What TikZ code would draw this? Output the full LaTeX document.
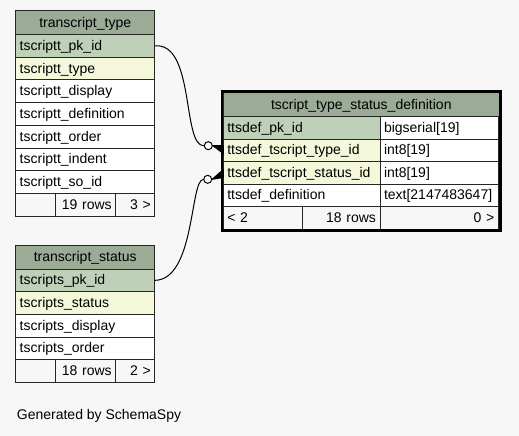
\documentclass[tikz,border=0pt]{standalone}
\usepackage{fontspec}
\setmainfont{Liberation Sans}
\usetikzlibrary{positioning,fit}
\definecolor{hdrgreen}{HTML}{9BAB96}
\definecolor{pkgreen}{HTML}{BED1B8}
\definecolor{idxyellow}{HTML}{F4F7DA}
\definecolor{bggray}{HTML}{F7F7F7}

\begin{document}
\begin{tikzpicture}[x=1pt,y=-1pt,
  cell/.style={draw=black!85,line width=0.9pt,rectangle,inner xsep=4pt,inner ysep=0pt,outer sep=0pt,
    text height=11pt,text depth=2pt,minimum height=22.7pt,font=\fontsize{14}{16}\selectfont,node distance=0pt},
  hdr/.style={cell,fill=hdrgreen,align=center,minimum height=23.8pt},
  pkcol/.style={cell,fill=pkgreen,align=left},
  idxcol/.style={cell,fill=idxyellow,align=left},
  col/.style={cell,fill=white,align=left},
  foot/.style={cell,fill=bggray,align=right},
  rel/.style={draw=black,line width=1pt},
  odot/.style={circle,draw=black,line width=1pt,fill=white,minimum size=8pt,inner sep=0pt},
  crow/.style={draw=black,fill=black,line width=1pt,line join=round}]

  \fill[bggray] (0,0) rectangle (519,436);
  \useasboundingbox (0,0) rectangle (519,436);

  % transcript_type
  \node[hdr,text width=131pt,anchor=north west] (tt) at (15.7,10.7) {transcript\_type};
  \node[pkcol,text width=131pt,below=of tt] (tt_pk) {tscriptt\_pk\_id};
  \node[idxcol,text width=131pt,below=of tt_pk] (tt_type) {tscriptt\_type};
  \node[col,text width=131pt,below=of tt_type] (tt_disp) {tscriptt\_display};
  \node[col,text width=131pt,below=of tt_disp] (tt_def) {tscriptt\_definition};
  \node[col,text width=131pt,below=of tt_def] (tt_ord) {tscriptt\_order};
  \node[col,text width=131pt,below=of tt_ord] (tt_ind) {tscriptt\_indent};
  \node[col,text width=131pt,below=of tt_ind] (tt_so) {tscriptt\_so\_id};
  \node[foot,text width=32pt,anchor=north west] (tt_f1) at (tt_so.south west) {};
  \node[foot,text width=52pt,right=of tt_f1] (tt_f2) {19 rows};
  \node[foot,text width=31pt,right=of tt_f2] (tt_f3) {3 >};

  % transcript_status
  \node[hdr,text width=131pt,anchor=north west,minimum height=24pt] (ts) at (15.7,245) {transcript\_status};
  \node[pkcol,text width=131pt,below=of ts] (ts_pk) {tscripts\_pk\_id};
  \node[idxcol,text width=131pt,below=of ts_pk] (ts_stat) {tscripts\_status};
  \node[col,text width=131pt,below=of ts_stat] (ts_disp) {tscripts\_display};
  \node[col,text width=131pt,below=of ts_disp] (ts_ord) {tscripts\_order};
  \node[foot,text width=32pt,anchor=north west] (ts_f1) at (ts_ord.south west) {};
  \node[foot,text width=52pt,right=of ts_f1] (ts_f2) {18 rows};
  \node[foot,text width=31pt,right=of ts_f2] (ts_f3) {2 >};

  % tscript_type_status_definition
  \begin{scope}[cell/.append style={minimum height=22.5pt}]
    \node[hdr,text width=268pt,anchor=north west,minimum height=24pt] (d) at (223.3,92.7) {tscript\_type\_status\_definition};
    \node[pkcol,text width=148.7pt,anchor=north west] (d_pk) at (d.south west) {ttsdef\_pk\_id};
    \node[col,text width=110.3pt,right=of d_pk] (d_pk_t) {bigserial[19]};
    \node[idxcol,text width=148.7pt,below=of d_pk] (d_type) {ttsdef\_tscript\_type\_id};
    \node[col,text width=110.3pt,right=of d_type] (d_type_t) {int8[19]};
    \node[idxcol,text width=148.7pt,below=of d_type] (d_stat) {ttsdef\_tscript\_status\_id};
    \node[col,text width=110.3pt,right=of d_stat] (d_stat_t) {int8[19]};
    \node[col,text width=148.7pt,below=of d_stat] (d_def) {ttsdef\_definition};
    \node[col,text width=110.3pt,right=of d_def] (d_def_t) {text[2147483647]};
    \node[foot,text width=71pt,align=left,anchor=north west] (d_f1) at (d_def.south west) {< 2};
    \node[foot,text width=69.7pt,right=of d_f1] (d_f2) {18 rows};
    \node[foot,text width=110.3pt,right=of d_f2] (d_f3) {0 >};
  \end{scope}
  \node[fit=(d)(d_f3),draw=black,line width=2.4pt,inner sep=1.2pt] (d_frame) {};

  % relations
  \node[odot] (o_type) at (208.3,145.7) {};
  \node[odot] (o_stat) at (207.7,179.3) {};
  \draw[rel] (tt_pk.east) .. controls (195,42) and (182,146) .. (o_type);
  \draw[rel] (ts_pk.east) .. controls (195,280) and (190,180) .. (o_stat);
  \draw[crow] (o_type.east) -- ([yshift=5pt]d_type.west) -- ([yshift=-3pt]d_type.west) -- cycle;
  \draw[crow] (o_stat.east) -- ([yshift=3.4pt]d_stat.west) -- ([yshift=-4.6pt]d_stat.west) -- cycle;

  \node[anchor=west,font=\fontsize{14}{16}\selectfont,inner sep=0pt] (gen) at (16.7,416) {Generated by SchemaSpy};
\end{tikzpicture}
\end{document}
